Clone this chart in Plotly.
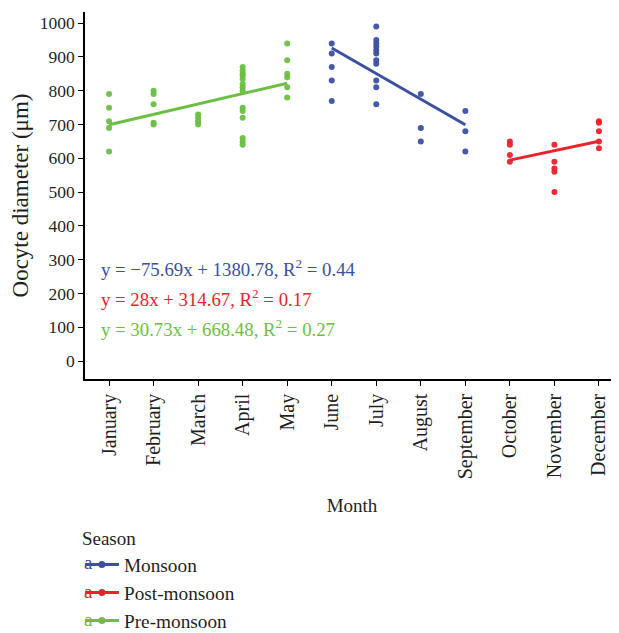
import plotly.graph_objects as go

months = ["January", "February", "March", "April", "May", "June", "July",
          "August", "September", "October", "November", "December"]

# Pre-monsoon observations (month index, oocyte diameter)
pre_x = [1, 1, 1, 1, 1,
         2, 2, 2, 2, 2,
         3, 3, 3, 3,
         4, 4, 4, 4, 4, 4, 4, 4, 4, 4, 4, 4, 4, 4,
         5, 5, 5, 5, 5, 5]
pre_y = [790, 750, 710, 690, 620,
         800, 790, 760, 705, 700,
         730, 720, 710, 700,
         870, 860, 850, 845, 835, 820, 810, 800, 750, 740, 720, 660, 650, 640,
         940, 890, 850, 840, 810, 780]

# Monsoon observations
mon_x = [6, 6, 6, 6, 6,
         7, 7, 7, 7, 7, 7, 7, 7, 7, 7, 7,
         8, 8, 8,
         9, 9, 9]
mon_y = [940, 910, 870, 830, 770,
         990, 950, 940, 930, 920, 910, 890, 880, 830, 810, 760,
         790, 690, 650,
         740, 680, 620]

# Post-monsoon observations
post_x = [10, 10, 10, 10,
          11, 11, 11, 11, 11,
          12, 12, 12, 12, 12]
post_y = [650, 640, 610, 590,
          640, 590, 570, 560, 500,
          710, 705, 680, 650, 630]

# Regression fits shown on the chart: slope, intercept, R^2, month span
mon_fit = (-75.69, 1380.78, 0.44, [6, 9])
post_fit = (28.0, 314.67, 0.17, [10, 12])
pre_fit = (30.73, 668.48, 0.27, [1, 5])

seasons = ["Monsoon", "Post-monsoon", "Pre-monsoon"]
colors = {"Monsoon": "#3B50A3", "Post-monsoon": "#E8232B", "Pre-monsoon": "#6CBF42"}
data = {"Monsoon": (mon_x, mon_y, mon_fit),
        "Post-monsoon": (post_x, post_y, post_fit),
        "Pre-monsoon": (pre_x, pre_y, pre_fit)}

FONT = "Liberation Serif"
TXT = "#1f1f1f"
fig = go.Figure()

for s in seasons:
    xs, ys, (m, b, r2, span) = data[s]
    c = colors[s]
    fig.add_trace(go.Scatter(x=xs, y=ys, mode="markers", showlegend=False,
                             marker=dict(color=c, size=6, opacity=0.95)))
    fig.add_trace(go.Scatter(x=span, y=[m * span[0] + b, m * span[1] + b], mode="lines",
                             showlegend=False, line=dict(color=c, width=3)))
    fig.add_trace(go.Scatter(x=[None], y=[None], mode="lines+markers", name=s,
                             line=dict(color=c, width=3), marker=dict(color=c, size=7)))

def fmt(v):
    s = f"{v:.2f}".rstrip("0").rstrip(".")
    return s.replace("-", "\u2212")

eq_y = {"Monsoon": 276, "Post-monsoon": 187, "Pre-monsoon": 97}
for s in seasons:
    m, b, r2, span = data[s][2]
    txt = f"y = {fmt(m)}x + {fmt(b)}, R<sup>2</sup> = {r2:.2f}"
    fig.add_annotation(x=0.78, y=eq_y[s], xref="x", yref="y", text=txt, showarrow=False,
                       xanchor="left", yanchor="middle",
                       font=dict(family=FONT, size=18.8, color=colors[s]))

# coloured "a" keys in the legend (text-layer key, as in the original)
key_y = {"Monsoon": -0.5, "Post-monsoon": -0.578, "Pre-monsoon": -0.656}
for s in seasons:
    fig.add_annotation(x=-0.005, y=key_y[s], xref="paper", yref="paper", text="a",
                       showarrow=False, xanchor="left", yanchor="middle",
                       font=dict(family=FONT, size=19, color=colors[s]))

# the page adds an 8px body margin, so the figure is 8px smaller than the window
fig.update_layout(
    width=611, height=625,
    margin=dict(l=77, r=0, t=4, b=254, autoexpand=False),
    plot_bgcolor="white", paper_bgcolor="white",
    font=dict(family=FONT, size=18, color=TXT),
    showlegend=True,
    legend=dict(title=dict(text="Season", font=dict(family=FONT, size=19, color=TXT)),
                x=-0.0095, xanchor="left", y=-0.386, yanchor="top",
                font=dict(family=FONT, size=19.3, color=TXT), itemwidth=34,
                tracegroupgap=0, bgcolor="rgba(0,0,0,0)"),
)
fig.update_xaxes(range=[0.46, 12.45], tickvals=list(range(1, 13)), ticktext=months,
                 tickangle=-90, showgrid=False, zeroline=False, automargin=False,
                 showline=True, linecolor="black", linewidth=1.5,
                 ticks="outside", ticklen=5, tickcolor="black",
                 tickfont=dict(family=FONT, size=20, color=TXT),
                 title=dict(text="Month", standoff=20, font=dict(family=FONT, size=19, color=TXT)))
fig.update_yaxes(range=[-53, 1033], tickvals=list(range(0, 1001, 100)),
                 showgrid=False, zeroline=False, automargin=False,
                 showline=True, linecolor="black", linewidth=1.5,
                 ticks="outside", ticklen=5, tickcolor="black",
                 tickfont=dict(family=FONT, size=17.5, color=TXT),
                 title=dict(text="Oocyte diameter (\u03bcm)", standoff=12,
                            font=dict(family=FONT, size=23, color=TXT)))

fig.write_html("out.html")
